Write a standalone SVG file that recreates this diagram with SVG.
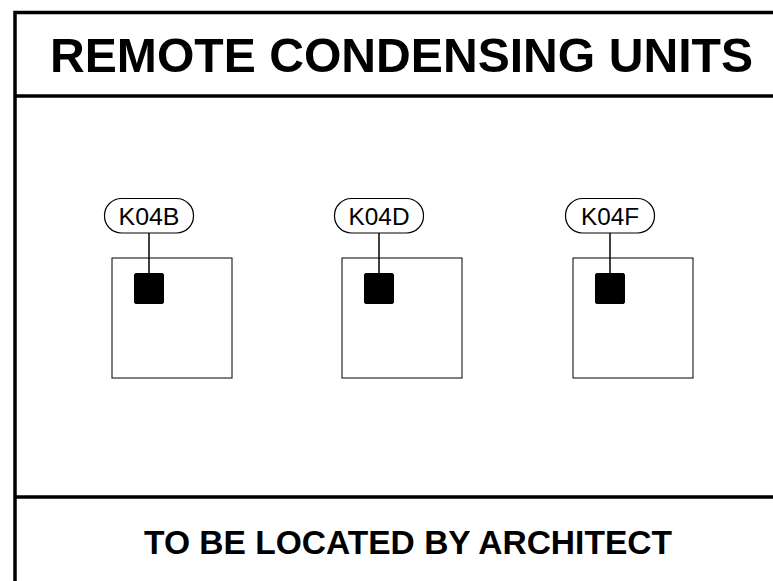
<svg xmlns="http://www.w3.org/2000/svg" width="773" height="581" viewBox="0 0 773 581">
<style>
.frame{stroke:#000;stroke-width:3.5;fill:none}
.box{fill:#fff;stroke:#000;stroke-width:1}
.sq{fill:#000;stroke:#000;stroke-width:1}
.pill{fill:#fff;stroke:#000;stroke-width:1.2}
.lbl{font-family:"Liberation Sans",Arial,sans-serif;font-size:24px;text-anchor:middle;fill:#000}
.lead{stroke:#000;stroke-width:1.5}
.title{font-family:"Liberation Sans",Arial,sans-serif;font-weight:bold;text-anchor:middle;fill:#000}
</style>
<rect width="773" height="581" fill="#fff"/>
<g id="frame">
<path class="frame" d="M15,581 V12.5 H773 M15,96 H773 M15,497 H773"/>
</g>
<text class="title" x="401.5" y="72" font-size="48" textLength="703" lengthAdjust="spacingAndGlyphs">REMOTE CONDENSING UNITS</text>
<text class="title" x="408" y="554" font-size="33.5" textLength="528" lengthAdjust="spacingAndGlyphs">TO BE LOCATED BY ARCHITECT</text>
<g id="unit-K04B">
<rect class="box" x="112" y="258" width="120" height="120"/>
<rect class="sq" x="134.5" y="273.5" width="29" height="30" rx="1.5"/>
</g>
<g id="unit-K04D">
<rect class="box" x="342" y="258" width="120" height="120"/>
<rect class="sq" x="364.5" y="273.5" width="29" height="30" rx="1.5"/>
</g>
<g id="unit-K04F">
<rect class="box" x="573" y="258" width="120" height="120"/>
<rect class="sq" x="595.5" y="273.5" width="29" height="30" rx="1.5"/>
</g>
<g id="connectors">
<line class="lead" x1="149" y1="233" x2="149" y2="274"/>
<line class="lead" x1="379" y1="233" x2="379" y2="274"/>
<line class="lead" x1="610" y1="233" x2="610" y2="274"/>
</g>
<g id="tag-K04B">
<rect class="pill" x="104.5" y="198.5" width="89" height="34.5" rx="17"/>
<text class="lbl" x="149" y="224.5" textLength="61" lengthAdjust="spacingAndGlyphs">K04B</text>
</g>
<g id="tag-K04D">
<rect class="pill" x="334.5" y="198.5" width="89" height="34.5" rx="17"/>
<text class="lbl" x="379" y="224.5" textLength="61" lengthAdjust="spacingAndGlyphs">K04D</text>
</g>
<g id="tag-K04F">
<rect class="pill" x="565.5" y="198.5" width="89" height="34.5" rx="17"/>
<text class="lbl" x="610" y="224.5" textLength="58" lengthAdjust="spacingAndGlyphs">K04F</text>
</g>
</svg>
